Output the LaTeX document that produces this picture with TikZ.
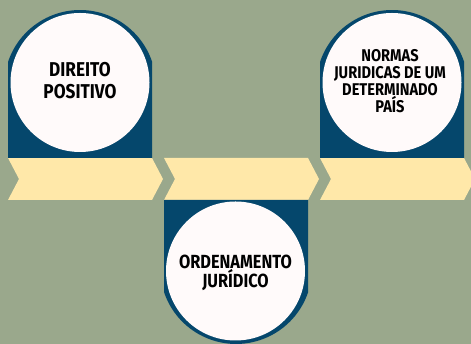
\documentclass[tikz,border=0pt]{standalone}
\usepackage{fontspec}
\setmainfont{Fira Sans}[FakeStretch=0.86]
\usetikzlibrary{calc}

\definecolor{sage}{HTML}{9AA88C}
\definecolor{navy}{HTML}{05476C}
\definecolor{cream}{HTML}{FFE8A9}
\definecolor{snow}{HTML}{FFFAFA}

\tikzset{
  chevron/.style={fill=cream},
  tab/.style={fill=navy},
  disc/.style={fill=snow},
  tabtext/.style={align=center, font=\bfseries, text=black, inner sep=0pt}
}

\begin{document}
\begin{tikzpicture}[x=1pt,y=1pt]
\fill[sage] (0,0) rectangle (471,344);
\useasboundingbox (0,0) rectangle (471,344);
% arrow band
\fill[chevron] (8,186) -- (152,186) -- (163,165) -- (152,144) -- (8,144) -- (19,165) -- cycle;
\fill[chevron] (164,186) -- (308,186) -- (319,165) -- (308,144) -- (164,144) -- (175,165) -- cycle;
\fill[chevron] (320,186) -- (464,186) -- (475,165) -- (464,144) -- (320,144) -- (331,165) -- cycle;
% tabs
\fill[tab] (8,186) -- (8,282) arc[start angle=161.57, end angle=18.43, radius=76] -- (152,186) -- cycle;
\fill[tab] (164,144) -- (164,52) arc[start angle=198.43, end angle=341.57, radius=76] -- (308,144) -- cycle;
\fill[tab] (320,186) -- (320,282) arc[start angle=161.57, end angle=18.43, radius=76] -- (464,186) -- cycle;
% circles and texts
\fill[disc] (80,261.5) circle (69.5);
\fill[disc] (235.5,73) circle (69.5);
\fill[disc] (392,261.5) circle (69.5);
\node[tabtext, font=\bfseries\fontsize{20}{22}\selectfont] (direito) at (80,263) {DIREITO\\POSITIVO};
\node[tabtext, font=\bfseries\fontsize{19}{18.7}\selectfont] (ordenamento) at (235.5,71) {ORDENAMENTO\\JURÍDICO};
\node[tabtext, font=\bfseries\fontsize{17}{17}\selectfont] (normas) at (390,262.5) {NORMAS\\JURIDICAS DE UM\\DETERMINADO\\PAÍS};
\end{tikzpicture}
\end{document}
